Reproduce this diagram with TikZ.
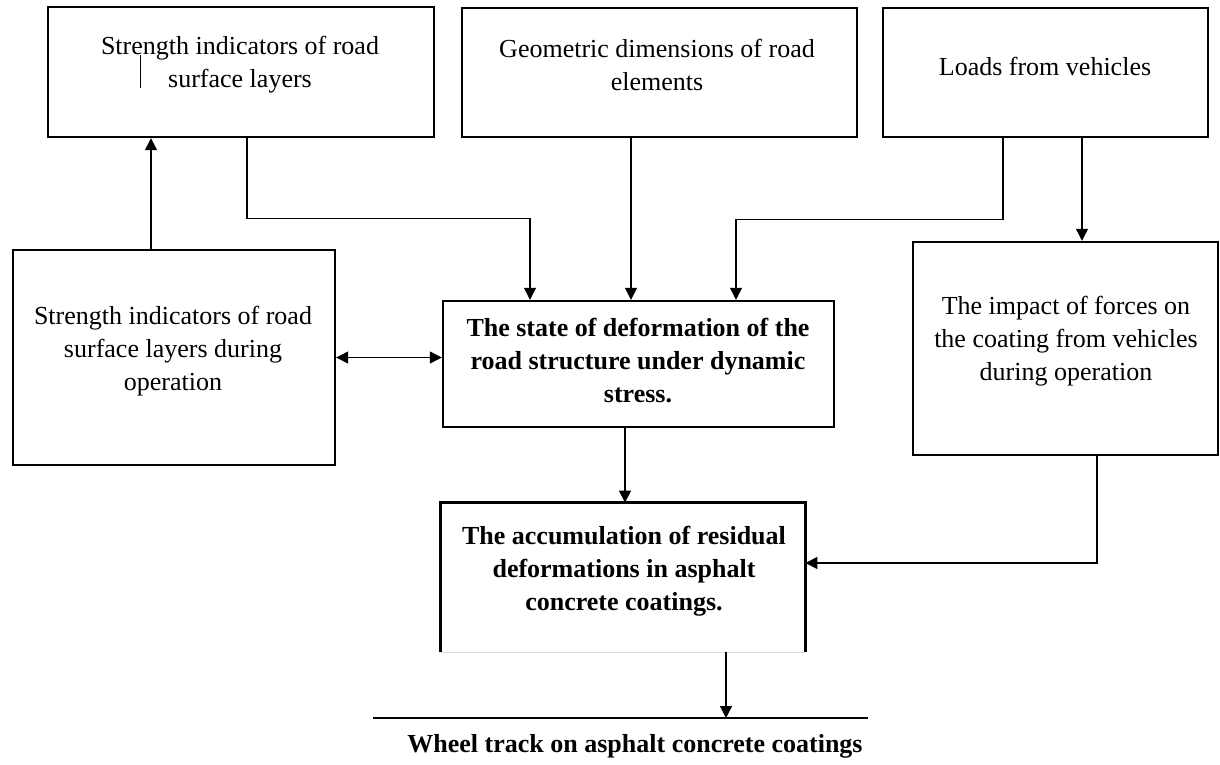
\documentclass[tikz,border=0pt]{standalone}
\usepackage{fontspec}
\setmainfont{Liberation Serif}
\usetikzlibrary{arrows.meta}

\begin{document}
\begin{tikzpicture}[x=.5pt,y=-.5pt,
  box/.style={draw,line width=1.2pt,inner sep=0pt},
  txt/.style={align=center,font=\fontsize{13pt}{16.5pt}\selectfont},
  btxt/.style={align=center,font=\fontsize{13pt}{16.5pt}\selectfont\bfseries},
  arr/.style={-{Triangle[width=6pt,length=6pt]},line width=.6pt},
  darr/.style={{Triangle[width=6pt,length=6pt]}-{Triangle[width=6pt,length=6pt]},line width=.6pt}]
\useasboundingbox (0,0) rectangle (1220,765);

\node[box,minimum width=193pt,minimum height=65pt] (A) at (241,72) {}; % strength
\node[box,minimum width=197.5pt,minimum height=64.5pt] (B) at (659.5,72.5) {}; % geometry
\node[box,minimum width=162.5pt,minimum height=64.5pt] (C) at (1045.5,72.5) {}; % loads
\node[box,minimum width=152.5pt,minimum height=106.5pt] (D) at (1065.5,348.5) {}; % forces
\node[box,minimum width=161pt,minimum height=107.5pt] (E) at (174,357.5) {}; % strength in operation
\node[box,minimum width=195.5pt,minimum height=63pt] (F) at (638.5,364) {}; % deformation state
\node[inner sep=0pt,minimum width=182pt,minimum height=74.5pt] (G) at (623,577.5) {}; % accumulation
\draw[line width=1.2pt] (G.south west) -- (G.north west) -- (G.north east) -- (G.south east);
\draw[gray!30] (G.south west) -- (G.south east);

\node[txt] (Atext) at (240,65) {Strength indicators of road\\surface layers};
\node[txt] (Btext) at (657,65) {Geometric dimensions of road\\elements};
\node[txt] (Ctext) at (1045,66) {Loads from vehicles};
\node[txt] (Dtext) at (1066,341) {The impact of forces on\\the coating from vehicles\\during operation};
\node[txt] (Etext) at (173,351) {Strength indicators of road\\surface layers during\\operation};
\node[btxt] (Ftext) at (638,361) {The state of deformation of the\\road structure under dynamic\\stress.};
\node[btxt] (Gtext) at (624,571) {The accumulation of residual\\deformations in asphalt\\concrete coatings.};
\draw[line width=.5pt] (140.5,55) -- (140.5,88); % stray mark

\coordinate (tw) at (373,718);
\coordinate (te) at (868,718);
\draw[line width=1pt] (tw) -- (te); % track line
\node[btxt] (track) at (635,746) {Wheel track on asphalt concrete coatings};

% connectors
\draw[arr] ([xshift=-11.5pt]E.north) -- ([xshift=-11.5pt]E.north |- A.south);
\draw[arr] ([xshift=3pt]A.south) -- ++(0,80) -| ([xshift=-54.25pt]F.north);
\draw[arr] ([xshift=-14.25pt]B.south) -- ([xshift=-14.25pt]B.south |- F.north);
\draw[arr] ([xshift=-21.25pt]C.south) -- ++(0,81) -| ([xshift=48.75pt]F.north);
\draw[arr] ([xshift=18.25pt]C.south) -- ([xshift=18.25pt]C.south |- D.north);
\draw[darr] (E.east) -- (E.east -| F.west);
\draw[arr] ([xshift=-6.75pt]F.south) -- ([xshift=-6.75pt]F.south |- G.north);
\draw[arr] ([xshift=15.75pt]D.south) |- ([yshift=7.25pt]G.east);
\draw[arr] ([xshift=51.5pt]G.south) -- ([xshift=51.5pt]G.south |- tw);

\end{tikzpicture}
\end{document}
